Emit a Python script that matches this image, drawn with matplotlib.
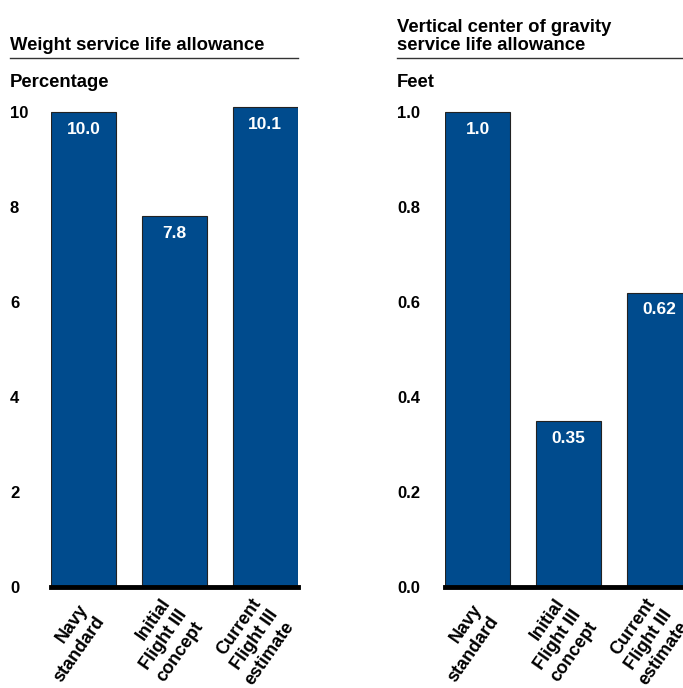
import matplotlib
matplotlib.use("Agg")
import matplotlib.pyplot as plt
from matplotlib.lines import Line2D

plt.rcParams['font.family'] = ['Liberation Sans', 'DejaVu Sans']
plt.rcParams['font.weight'] = 'bold'

categories = ['Navy\nstandard', 'Initial\nFlight III\nconcept', 'Current\nFlight III\nestimate']

weight_values = [10.0, 7.8, 10.1]
weight_labels = ['10.0', '7.8', '10.1']
weight_ticks = [0, 2, 4, 6, 8, 10]
weight_ticklabels = ['0', '2', '4', '6', '8', '10']

vcg_values = [1.0, 0.35, 0.62]
vcg_labels = ['1.0', '0.35', '0.62']
vcg_ticks = [0.0, 0.2, 0.4, 0.6, 0.8, 1.0]
vcg_ticklabels = ['0.0', '0.2', '0.4', '0.6', '0.8', '1.0']

BAR = '#004B8D'
W, H = 683, 688

fig = plt.figure(figsize=(W / 100, H / 100), dpi=100)


def panel(left_px, text_px, values, labels, ticks, ticklabels, ymax, title, unit):
    bottom_px, top_px = 587, 102.5
    ax = fig.add_axes([left_px / W, (H - bottom_px) / H, 247 / W, (bottom_px - top_px) / H])
    x = list(range(len(values)))
    bars = ax.bar(x, values, width=0.72, color=BAR, edgecolor='#222222', linewidth=0.8)
    ax.set_xlim(-0.36, 2.36)
    ax.set_ylim(0, ymax)
    for b, lab in zip(bars, labels):
        ax.annotate(lab, (b.get_x() + b.get_width() / 2, b.get_height()),
                    xytext=(0, -12.5), textcoords='offset points',
                    ha='center', va='center', color='white', fontsize=12.5, fontweight='bold')
    for s in ['top', 'right', 'left']:
        ax.spines[s].set_visible(False)
    ax.spines['bottom'].set_linewidth(3.5)
    ax.spines['bottom'].set_color('black')
    ax.set_yticks(ticks)
    ax.set_yticklabels(ticklabels, fontsize=12, fontweight='bold')
    ax.tick_params(axis='y', length=0, pad=(left_px - text_px) * 0.72)
    for t in ax.get_yticklabels():
        t.set_ha('left')

    # category labels: rotated, right-aligned lines, anchored at block's right middle
    ax.set_xticks(x)
    ax.set_xticklabels([])
    ax.tick_params(axis='x', length=0)
    for xi, cat in zip(x, categories):
        ax.annotate(cat, (xi, 0), xytext=(6.5, -18), textcoords='offset points',
                    rotation=55, rotation_mode='anchor', ha='right', va='center',
                    multialignment='right', linespacing=1.25,
                    fontsize=13, fontweight='bold', annotation_clip=False)

    tx = text_px / W
    fig.text(tx, 1 - 50.5 / H, title, ha='left', va='baseline', fontsize=13.3,
             fontweight='bold', linespacing=1.1)
    fig.add_artist(Line2D([tx, (left_px + 247) / W], [1 - 57.5 / H, 1 - 57.5 / H],
                          color='#333333', linewidth=1.0, transform=fig.transFigure))
    fig.text(tx, 1 - 87 / H, unit, ha='left', va='baseline', fontsize=13.3, fontweight='bold')
    return ax


panel(51, 10, weight_values, weight_labels, weight_ticks, weight_ticklabels, 10.2,
      'Weight service life allowance', 'Percentage')
panel(445, 397, vcg_values, vcg_labels, vcg_ticks, vcg_ticklabels, 1.02,
      'Vertical center of gravity\nservice life allowance', 'Feet')

fig.savefig('out.png', dpi=100)
